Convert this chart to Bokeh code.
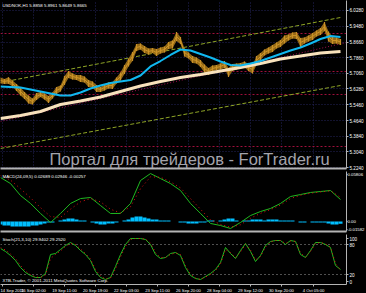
from bokeh.plotting import figure
from bokeh.layouts import column
from bokeh.models import Range1d, FixedTicker, Label, Span, Grid
from bokeh.embed import file_html
from bokeh.resources import INLINE

# ---------------- data ----------------
symbol_text = "USDNOK,H1 5.8858 5.8961 5.8649 5.8665"
macd_text = "MACD(24,09,5) 0.02689 0.02946 -0.00257"
stoch_text = "Stoch(21,3,10) 29.9402 29.2520"
copyright_text = "XTB-Trader, \u00a9 2001-2011 MetaQuotes Software Corp."
watermark_text = "Портал для трейдеров - ForTrader.ru"

time_ticks = [2, 33, 64, 95, 126, 157, 188, 219, 250, 281, 313]
time_labels = ["14 Sep 2011", "16 Sep 02:00", "19 Sep 11:00", "20 Sep 19:00", "22 Sep 03:00",
               "23 Sep 11:00", "26 Sep 20:00", "28 Sep 04:00", "29 Sep 12:00", "30 Sep 20:00",
               "4 Oct 05:00"]

price_ticks = [6.0280, 5.9480, 5.8660, 5.7860, 5.7060, 5.6280, 5.5460, 5.4640, 5.3840, 5.3040, 5.2240]
price_labels = ["6.0280", "5.9480", "5.8660", "5.7860", "5.7060", "5.6280", "5.5460", "5.4640",
                "5.3840", "5.3040", "5.2240"]
level_prices = [5.9102, 5.7157, 5.5979, 5.3316]
last_price = 5.8665

bar_x = list(range(0, 341, 4))
close = [5.6696, 5.6645, 5.6696, 5.6542, 5.6338, 5.6133, 5.5928, 5.5723, 5.5621, 5.5877,
         5.5979, 5.5877, 5.5723, 5.5928, 5.6184, 5.6286, 5.6696, 5.7003, 5.6901, 5.6850,
         5.6798, 5.6747, 5.6542, 5.6491, 5.6286, 5.6235, 5.6338, 5.6440, 5.6440, 5.6696,
         5.6901, 5.7259, 5.7618, 5.7925, 5.8386, 5.8437, 5.8283, 5.8181, 5.8232, 5.8130,
         5.8232, 5.8283, 5.8488, 5.8539, 5.8949, 5.8744, 5.8130, 5.7976, 5.7771, 5.7720,
         5.7566, 5.7310, 5.7157, 5.7310, 5.7362, 5.7413, 5.7515, 5.7106, 5.7362, 5.7413,
         5.7464, 5.7515, 5.7362, 5.7259, 5.7720, 5.7925, 5.8130, 5.8232, 5.8334, 5.8488,
         5.8590, 5.8795, 5.8898, 5.9000, 5.9000, 5.8642, 5.8744, 5.8846, 5.8949, 5.9102,
         5.9205, 5.9461, 5.8949, 5.8744, 5.8744, 5.8665]
bar_range = [0.030, 0.026, 0.034, 0.030, 0.036, 0.040, 0.036, 0.041, 0.030, 0.036,
             0.026, 0.031, 0.036, 0.030, 0.036, 0.031, 0.046, 0.036, 0.031, 0.026,
             0.036, 0.031, 0.036, 0.030, 0.036, 0.026, 0.031, 0.030, 0.036, 0.031,
             0.041, 0.046, 0.041, 0.046, 0.036, 0.031, 0.036, 0.030, 0.026, 0.036,
             0.031, 0.030, 0.036, 0.041, 0.046, 0.036, 0.041, 0.031, 0.036, 0.030,
             0.036, 0.041, 0.036, 0.031, 0.026, 0.030, 0.036, 0.046, 0.036, 0.030,
             0.026, 0.031, 0.036, 0.041, 0.046, 0.036, 0.031, 0.030, 0.036, 0.031,
             0.036, 0.041, 0.031, 0.030, 0.036, 0.046, 0.031, 0.030, 0.036, 0.031,
             0.036, 0.046, 0.051, 0.036, 0.031, 0.030]

fast_x = list(range(0, 341, 10))
ma_fast = [5.6389, 5.6363, 5.6338, 5.6235, 5.6133, 5.6030, 5.5928, 5.5928, 5.6082, 5.6286,
           5.6440, 5.6568, 5.6645, 5.6722, 5.6952, 5.7413, 5.7694, 5.8002, 5.8283, 5.8232,
           5.8053, 5.7874, 5.7669, 5.7490, 5.7464, 5.7566, 5.7694, 5.7874, 5.8053, 5.8232,
           5.8386, 5.8590, 5.8821, 5.8974, 5.8923]
slow_x = list(range(0, 341, 20))
ma_slow = [5.4750, 5.4904, 5.5109, 5.5467, 5.5646, 5.5851, 5.6133, 5.6414, 5.6645, 5.6850,
           5.7003, 5.7182, 5.7362, 5.7566, 5.7797, 5.7951, 5.8104, 5.8181]

channel_x = [0, 340]
channel_upper = [5.6593, 5.9922]
channel_lower = [5.3215, 5.6440]
trend_x = [0, 346]
trend_y = [5.4597, 5.8642]

macd_x = list(range(0, 341, 10))
macd_main = [0.0537, 0.0463, 0.0317, 0.0220, 0.0098, -0.0012, 0.0098, 0.0220, 0.0280, 0.0293,
             0.0195, 0.0098, 0.0098, 0.0220, 0.0500, 0.0585, 0.0524, 0.0463, 0.0378, 0.0220,
             0.0098, -0.0024, -0.0049, -0.0085, -0.0012, 0.0073, 0.0122, 0.0159, 0.0220, 0.0305,
             0.0329, 0.0354, 0.0366, 0.0378, 0.0268]
macd_signal = [0.0560, 0.0505, 0.0400, 0.0290, 0.0170, 0.0060, 0.0050, 0.0150, 0.0240, 0.0280,
               0.0240, 0.0150, 0.0105, 0.0180, 0.0400, 0.0545, 0.0540, 0.0485, 0.0410, 0.0280,
               0.0150, 0.0020, -0.0035, -0.0070, -0.0040, 0.0040, 0.0100, 0.0145, 0.0200, 0.0280,
               0.0320, 0.0345, 0.0360, 0.0375, 0.0295]
macd_hist = [-0.0037, -0.0049, -0.0049, -0.0062, -0.0062, -0.0062, -0.0062, -0.0062, -0.0049, -0.0049,
             -0.0037, -0.0025, -0.0012, -0.0012, 0.0000, 0.0012, 0.0025, 0.0037, 0.0037, 0.0025,
             0.0012, 0.0012, 0.0000, -0.0012, -0.0025, -0.0037, -0.0037, -0.0025, -0.0025, -0.0012,
             0.0000, 0.0012, 0.0025, 0.0049, 0.0062, 0.0062, 0.0049, 0.0037, 0.0025, 0.0025,
             0.0012, 0.0012, 0.0012, 0.0000, 0.0000, -0.0012, -0.0012, -0.0025, -0.0025, -0.0025,
             -0.0012, -0.0012, 0.0012, 0.0012, 0.0000, 0.0012, 0.0025, 0.0037, 0.0037, 0.0012,
             0.0000, 0.0012, 0.0012, 0.0025, 0.0025, 0.0025, 0.0012, 0.0025, 0.0025, 0.0025,
             0.0012, 0.0012, 0.0012, 0.0012, 0.0000, -0.0012, -0.0012, 0.0000, -0.0012, -0.0012,
             -0.0012, -0.0012, -0.0025, -0.0037, -0.0037, -0.0026]
macd_ticks = [0.0572, 0.0, -0.0098]
macd_tick_labels = ["0.05806", "0.00", "-0.01582"]

stoch_x = list(range(0, 341, 5))
stoch_k = [72, 66, 58, 48, 34, 24, 18, 14, 14, 22, 60, 62, 70, 78, 84, 78, 68, 60, 48, 26,
           14, 10, 14, 36, 60, 80, 92, 92, 92, 90, 80, 60, 52, 54, 62, 64, 58, 34, 18, 12,
           10, 16, 22, 30, 44, 74, 62, 52, 68, 82, 66, 46, 58, 78, 86, 88, 88, 80, 88, 86,
           60, 54, 68, 84, 84, 80, 74, 38, 29.9]
stoch_d = [74, 69, 61, 52, 38, 27, 20, 15, 14, 19, 52, 60, 67, 76, 82, 80, 71, 62, 51, 30,
           17, 11, 13, 31, 55, 76, 90, 92, 92, 91, 83, 64, 54, 54, 60, 63, 60, 38, 21, 13,
           10, 15, 20, 28, 41, 70, 64, 54, 65, 80, 69, 49, 56, 75, 85, 88, 88, 82, 87, 86,
           63, 55, 66, 82, 84, 81, 75, 42, 29.3]
stoch_levels = [80, 20]
stoch_ticks = [92, 80, 20, 6]
stoch_tick_labels = ["100", "80", "20", "0"]

# ---------------- styling helpers ----------------
GRAY = "#B4B4B4"
FONT = "Liberation Sans"
AXIS_FS = "4.6px"
TEXT_FS = "4.4px"
TIME_FS = "4.2px"


def make_fig(frame_h, y0, y1, bottom):
    f = figure(frame_width=346, frame_height=frame_h, x_range=Range1d(0, 346),
               y_range=Range1d(y0, y1), output_backend="svg", toolbar_location=None,
               y_axis_location="right", background_fill_color="black",
               border_fill_color="black", outline_line_color=None,
               min_border_left=0, min_border_right=0, min_border_top=0,
               min_border_bottom=bottom)
    f.grid.visible = False
    ya = f.yaxis[0]
    ya.axis_line_color = GRAY
    ya.major_tick_line_color = GRAY
    ya.major_tick_out = 2
    ya.major_tick_in = 0
    ya.minor_tick_line_color = None
    ya.major_label_text_color = "white"
    ya.major_label_text_font_size = AXIS_FS
    ya.major_label_text_font = FONT
    ya.major_label_standoff = 1
    return f


def sep_axis(f):
    xa = f.xaxis[0]
    xa.ticker = FixedTicker(ticks=[])
    xa.axis_line_color = GRAY
    xa.axis_line_width = 2
    xa.major_tick_line_color = None
    xa.minor_tick_line_color = None
    xa.major_label_text_font_size = "0px"
    xa.major_tick_out = 0
    xa.major_label_standoff = 0


def small_label(f, x, y, text, color="white"):
    f.add_layout(Label(x=x, y=y, text=text, text_font_size=TEXT_FS, text_font=FONT,
                       text_color=color, text_baseline="middle", text_align="left"))


# ---------------- main price panel ----------------
p1 = make_fig(168, 5.2190, 6.0792, 3)
sep_axis(p1)
p1.yaxis[0].ticker = FixedTicker(ticks=price_ticks)
p1.yaxis[0].major_label_overrides = dict(zip(price_ticks, price_labels))
p1.add_layout(Grid(dimension=1, ticker=FixedTicker(ticks=price_ticks),
                   grid_line_color="#24245C", grid_line_dash="1 2"))
p1.add_layout(Grid(dimension=0, ticker=FixedTicker(ticks=time_ticks),
                   grid_line_color="#24245C", grid_line_dash="1 2"))
for lv in level_prices:
    p1.add_layout(Span(location=lv, dimension="width", line_color="#A0103C",
                       line_dash="2 2", line_width=1, level="underlay"))

p1.add_layout(Label(x=49, y=5.2651, text=watermark_text, text_font_size="16.5px",
                    text_font=FONT, text_color="#A4A4AC", text_baseline="alphabetic"))

p1.line(channel_x, channel_upper, line_color="#8FA526", line_dash="4 2", line_width=1)
p1.line(channel_x, channel_lower, line_color="#8FA526", line_dash="4 2", line_width=1)
p1.line(trend_x, trend_y, line_color="#A01050", line_dash="1 2", line_width=1)

bar_lo = [c - r / 2 for c, r in zip(close, bar_range)]
bar_hi = [c + r / 2 for c, r in zip(close, bar_range)]
p1.varea(x=bar_x, y1=bar_lo, y2=bar_hi, fill_color="#A47418", fill_alpha=0.9)
p1.vbar(x=bar_x, bottom=bar_lo, top=bar_hi, width=1.2, fill_color="#C89028",
        line_color=None)
p1.line(bar_x, close, line_color="#CC9428", line_width=1)

p1.line(slow_x, ma_slow, line_color="#F8E2BC", line_width=3)
p1.line(fast_x, ma_fast, line_color="#10B8F0", line_width=2)

small_label(p1, 2, 6.0536, symbol_text)
for lv in level_prices:
    p1.add_layout(Label(x=347, y=lv, text=f"{lv:.4f}", text_font_size=AXIS_FS, text_font=FONT,
                        text_color="white", text_baseline="middle", text_align="left",
                        background_fill_color="#FF0000", padding=1))
p1.add_layout(Label(x=347, y=last_price, text=f"{last_price:.4f}", text_font_size=AXIS_FS,
                    text_font=FONT, text_color="black", text_baseline="middle",
                    text_align="left", background_fill_color="white", padding=1))

# ---------------- MACD panel ----------------
p2 = make_fig(60, -0.0122, 0.0610, 3)
sep_axis(p2)
p2.yaxis[0].ticker = FixedTicker(ticks=macd_ticks)
p2.yaxis[0].major_label_overrides = dict(zip(macd_ticks, macd_tick_labels))
p2.yaxis[0].major_tick_out = 1
p2.yaxis[0].major_label_standoff = 0
p2.yaxis[0].major_label_text_font_size = "4.3px"
p2.vbar(x=bar_x, top=macd_hist, bottom=0, width=4, fill_color="#00BFFF", line_color=None)
p2.line(macd_x, macd_main, line_color="#1FB81F", line_width=1)
p2.line(macd_x, macd_signal, line_color="#E01010", line_width=1, line_dash="1 3")
small_label(p2, 2, 0.0555, macd_text)

# ---------------- Stochastic panel ----------------
p3 = make_fig(50, 0, 100, 0)
p3.yaxis[0].ticker = FixedTicker(ticks=stoch_ticks)
p3.yaxis[0].major_label_overrides = dict(zip(stoch_ticks, stoch_tick_labels))
for lv in stoch_levels:
    p3.add_layout(Span(location=lv, dimension="width", line_color="#A0A0A0",
                       line_dash="1 3", line_width=1, level="underlay"))
p3.line(stoch_x, stoch_k, line_color="#1FB81F", line_width=1)
p3.line(stoch_x, stoch_d, line_color="#E01010", line_width=1, line_dash="1 3")
small_label(p3, 2, 91, stoch_text)
small_label(p3, 2, 8, copyright_text)

xa = p3.xaxis[0]
xa.ticker = FixedTicker(ticks=time_ticks)
xa.major_label_overrides = dict(zip(time_ticks, time_labels))
xa.major_label_text_align = "left"
xa.major_label_text_font_size = TIME_FS
xa.major_label_text_font = FONT
xa.major_label_text_color = "white"
xa.major_label_standoff = 1
xa.axis_line_color = GRAY
xa.major_tick_line_color = GRAY
xa.major_tick_out = 2
xa.major_tick_in = 0
xa.minor_tick_line_color = None

layout = column(p1, p2, p3, spacing=0, styles={"background-color": "black"})
open("out.html", "w").write(file_html(layout, INLINE))
